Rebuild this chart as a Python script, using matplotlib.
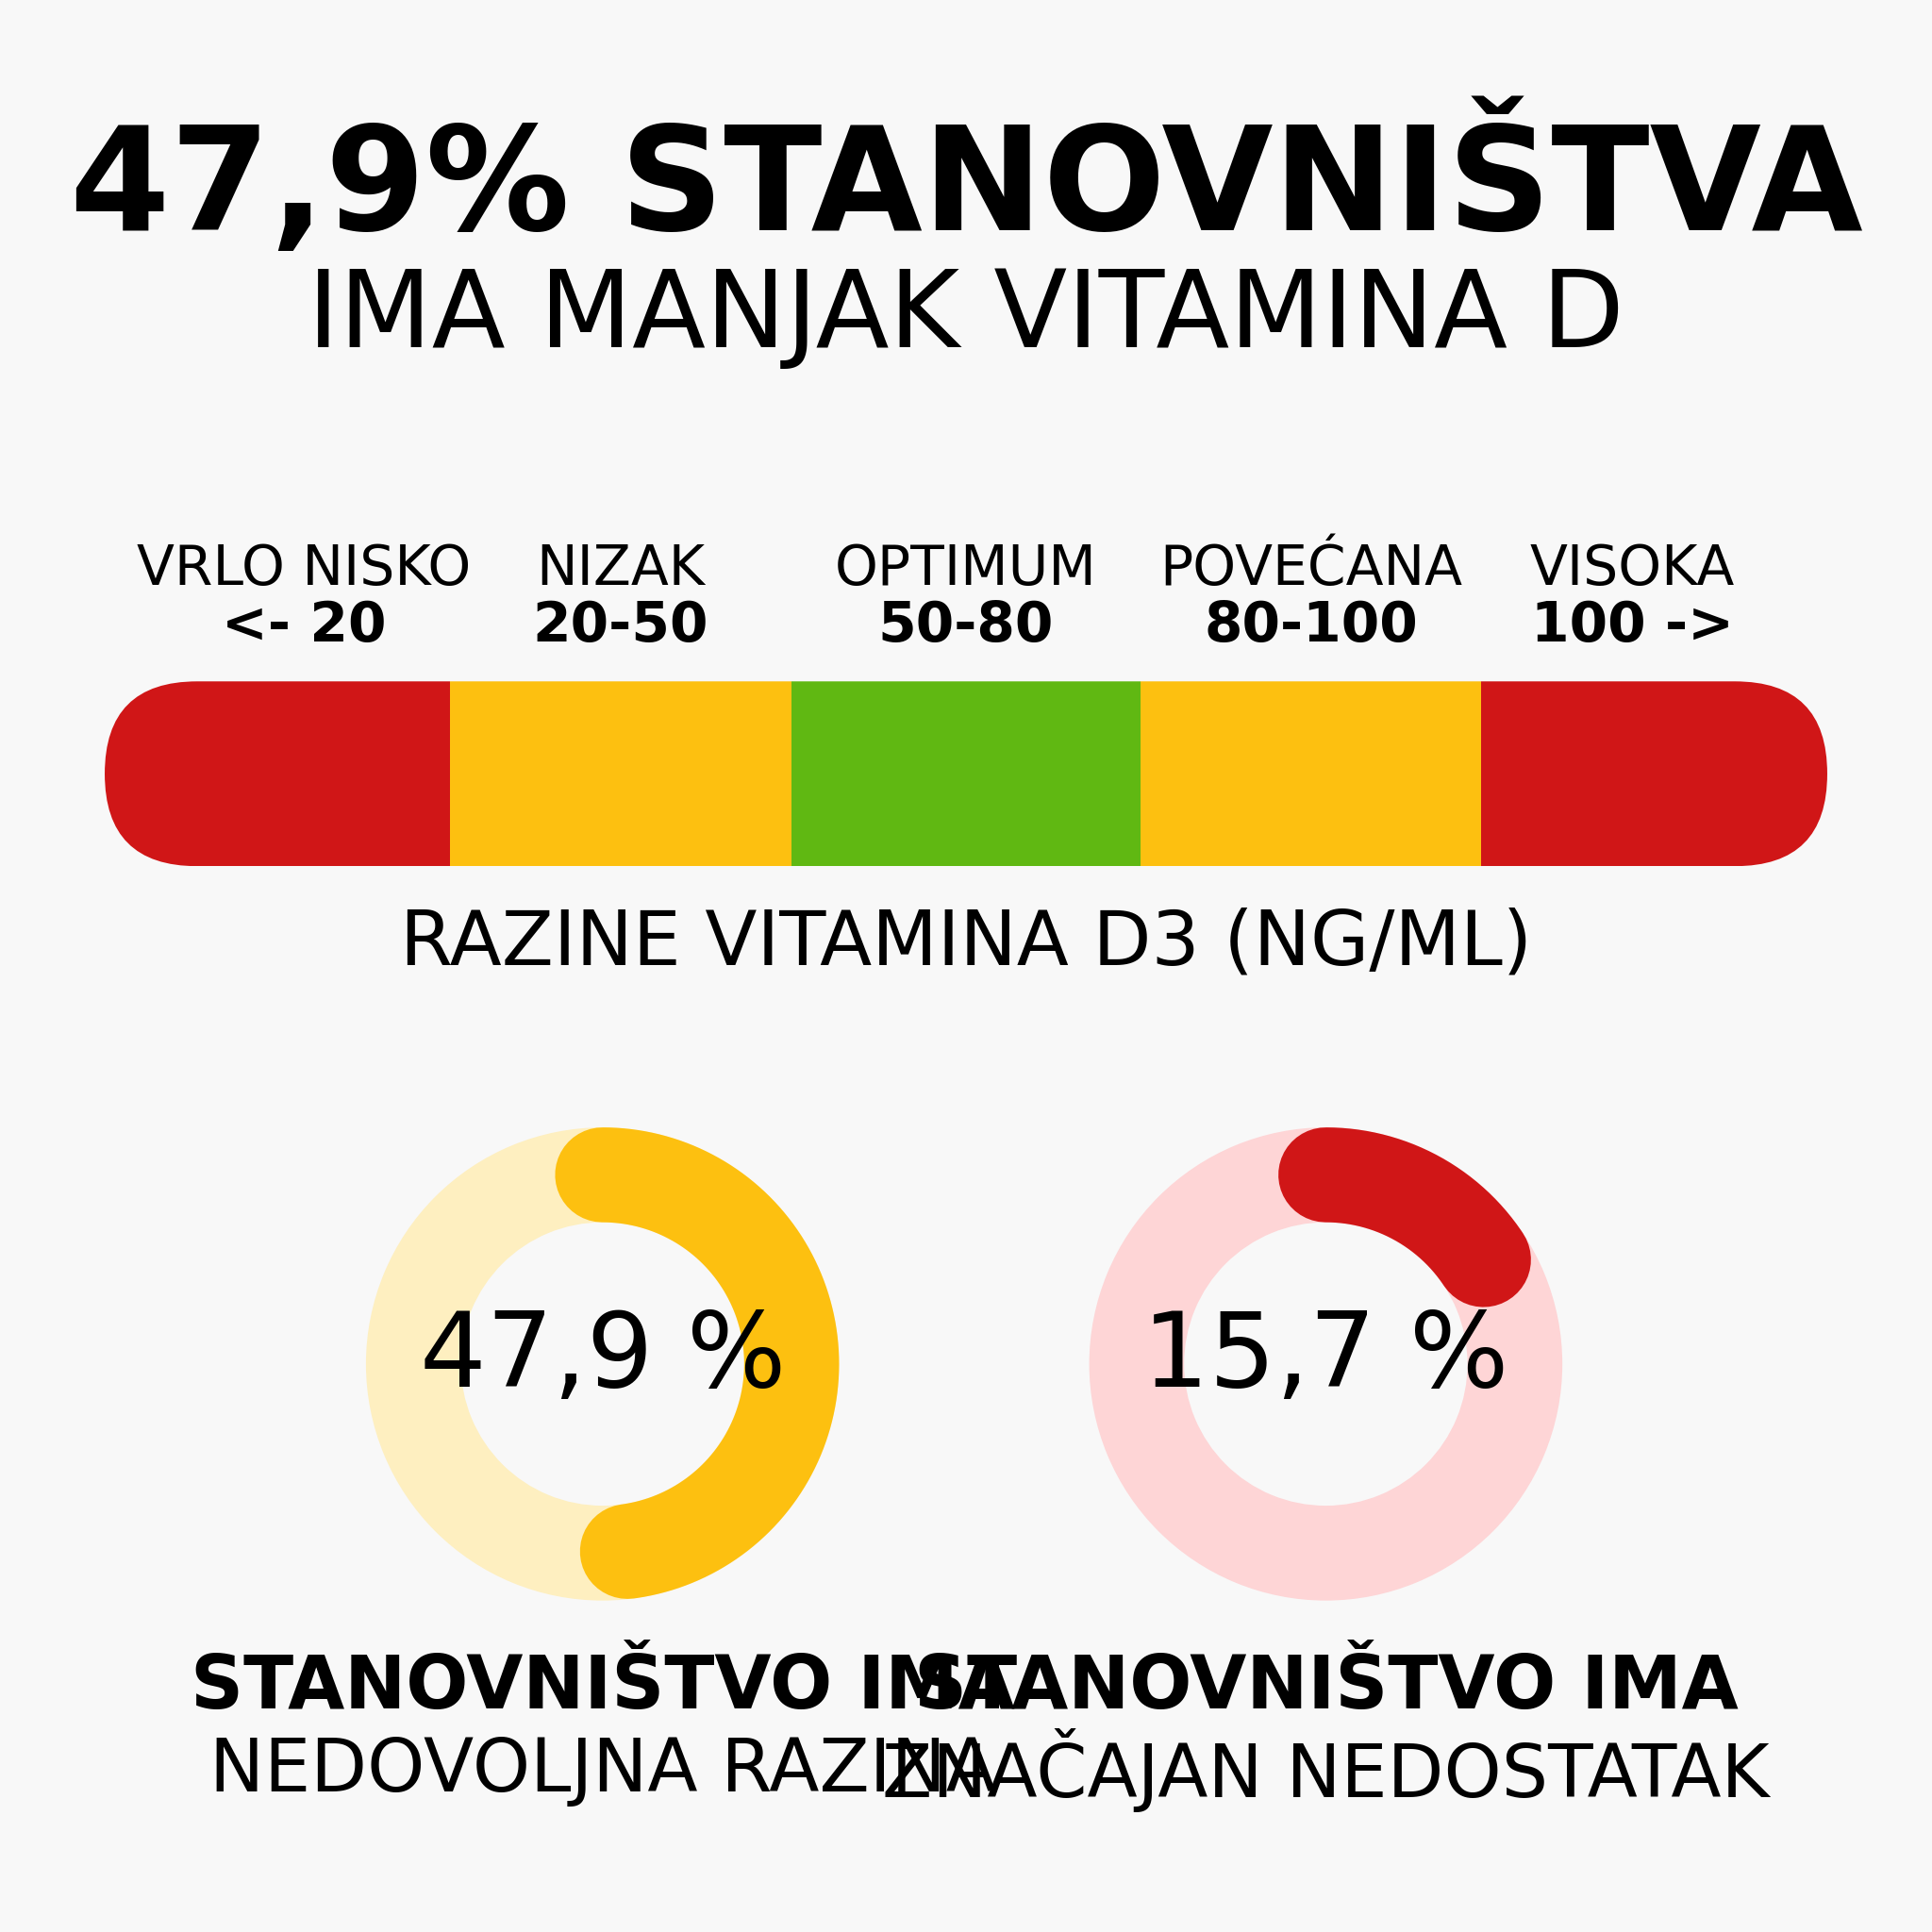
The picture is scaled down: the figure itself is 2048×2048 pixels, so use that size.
import numpy as np
import matplotlib.pyplot as plt
from matplotlib.patches import Rectangle, FancyBboxPatch, Wedge

FONT = "Liberation Sans Narrow"

# data
levels = ["VRLO NISKO", "NIZAK", "OPTIMUM", "POVEĆANA", "VISOKA"]
ranges = ["<- 20", "20-50", "50-80", "80-100", "100 ->"]
level_colors = ["#d01617", "#fdc010", "#60b812", "#fdc010", "#d01617"]
seg_edges = [85, 365, 642, 926, 1202, 1483]

donut_values = [47.9, 15.7]
donut_labels = ["47,9 %", "15,7 %"]
donut_bold = ["STANOVNIŠTVO IMA", "STANOVNIŠTVO IMA"]
donut_text = ["NEDOVOLJNA RAZINA", "ZNAČAJAN NEDOSTATAK"]
donut_colors = ["#fdc010", "#d01617"]
donut_bg = ["#feefc0", "#fed5d6"]
donut_cx = [489, 1076]

W = 1568
fig = plt.figure(figsize=(20.48, 20.48), dpi=100)
fig.patch.set_facecolor("#f8f8f8")
ax = fig.add_axes([0, 0, 1, 1])
ax.set_xlim(0, W)
ax.set_ylim(W, 0)
ax.set_aspect("equal")
ax.axis("off")

ax.text(784, 148, "47,9% STANOVNIŠTVA", ha="center", va="center",
        fontsize=110, fontweight="bold", family=FONT)
ax.text(784, 258, "IMA MANJAK VITAMINA D", ha="center", va="center",
        fontsize=82, family=FONT)

# level bar with rounded ends
y0, y1 = 553, 703
clip = FancyBboxPatch((seg_edges[0], y0), seg_edges[-1] - seg_edges[0], y1 - y0,
                      boxstyle="round,pad=0,rounding_size=75",
                      facecolor="none", edgecolor="none")
ax.add_patch(clip)
for i, c in enumerate(level_colors):
    r = Rectangle((seg_edges[i], y0), seg_edges[i + 1] - seg_edges[i], y1 - y0,
                  facecolor=c, edgecolor="none")
    ax.add_patch(r)
    r.set_clip_path(clip)
    xc = (seg_edges[i] + seg_edges[i + 1]) / 2
    if i == 0:
        xc = 247
    if i == 4:
        xc = 1325
    ax.text(xc, 462, levels[i], ha="center", va="center", fontsize=42, family=FONT)
    ax.text(xc, 508, ranges[i], ha="center", va="center", fontsize=42,
            fontweight="bold", family=FONT)

ax.text(784, 766, "RAZINE VITAMINA D3 (NG/ML)", ha="center", va="center",
        fontsize=58, family=FONT)

# donuts
cy, r_out, width = 1107, 192, 77
r_mid = r_out - width / 2
lw = width * 2048 / W * 72 / 100
for cx, v, lab, b, t, col, bg in zip(donut_cx, donut_values, donut_labels,
                                     donut_bold, donut_text, donut_colors, donut_bg):
    ax.add_patch(Wedge((cx, cy), r_out, 0, 360, width=width, facecolor=bg, edgecolor="none"))
    ang = np.linspace(0, v / 100 * 2 * np.pi, 200)
    ax.plot(cx + r_mid * np.sin(ang), cy - r_mid * np.cos(ang), color=col,
            lw=lw, solid_capstyle="round")
    ax.text(cx, cy - 5, lab, ha="center", va="center", fontsize=80, family=FONT)
    ax.text(cx, 1370, b, ha="center", va="center", fontsize=56,
            fontweight="bold", family=FONT)
    ax.text(cx, 1437, t, ha="center", va="center", fontsize=56, family=FONT)

fig.savefig("out.png", dpi=100, facecolor=fig.get_facecolor())
